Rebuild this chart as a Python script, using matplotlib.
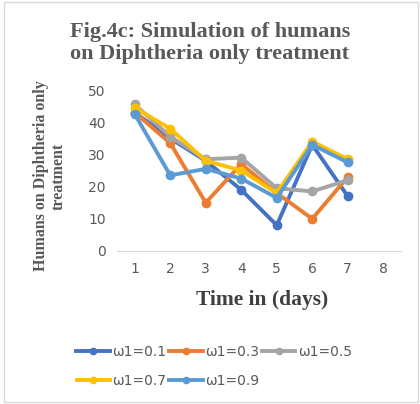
import numpy as np
import matplotlib.pyplot as plt
from matplotlib.patches import Rectangle

days = [1, 2, 3, 4, 5, 6, 7]
w01 = [43, 35, 28, 19, 8, 33, 17]
w03 = [43, 33.5, 15, 27, 18, 10, 23]
w05 = [45.5, 35.5, 28.5, 29, 19.5, 18.5, 22]
w07 = [44.5, 38, 28, 25, 18, 34, 28.5]
w09 = [42.5, 23.5, 25.5, 22.5, 16.5, 33, 27.5]
labels = ['ω1=0.1', 'ω1=0.3', 'ω1=0.5', 'ω1=0.7', 'ω1=0.9']
colors = ['#4472C4', '#ED7D31', '#A5A5A5', '#FFC000', '#5B9BD5']
series = [w01, w03, w05, w07, w09]

fig = plt.figure(figsize=(4.2, 4.04), dpi=100)
ax = fig.add_axes([117/420, 1-251/404, 284/420, 161/404])

for vals, lab, c in zip(series, labels, colors):
    ax.plot(days, vals, color=c, lw=2.8, marker='o', ms=6, label=lab)

ax.set_xlim(0.5, 8.5)
ax.set_ylim(0, 50)
ax.set_xticks(range(1, 9))
ax.set_yticks(range(0, 51, 10))
for s in ['top', 'right', 'left']:
    ax.spines[s].set_visible(False)
ax.spines['bottom'].set_color('#D9D9D9')
ax.tick_params(length=0, labelsize=10, colors='#595959', pad=8)

fig.text(0.5, 1-43/404, 'Fig.4c: Simulation of humans\non Diphtheria only treatment',
         ha='center', va='center', fontsize=16, fontweight='bold',
         family='Liberation Serif', color='#595959', linespacing=1.15)
fig.text(50/420, 1-176/404, 'Humans on Diphtheria only\ntreatment', rotation=90,
         ha='center', va='center', fontsize=11.5, fontweight='bold',
         family='Liberation Serif', color='#595959', linespacing=1.1)
fig.text(262/420, 1-300/404, 'Time in (days)', ha='center', va='center',
         fontsize=15.5, fontweight='bold', family='Liberation Serif', color='#404040')

h, l = ax.get_legend_handles_labels()
kw = dict(frameon=False, fontsize=10, labelcolor='#595959', handlelength=2.4,
          columnspacing=0.2, handletextpad=0.2, markerscale=0.75)
fig.legend(h[:3], l[:3], loc='center', bbox_to_anchor=(0.51, 1-352/404), ncol=3, **kw)
fig.legend(h[3:], l[3:], loc='center left', bbox_to_anchor=(64/420, 1-381/404), ncol=2, **kw)

fig.patches.append(Rectangle((4/420, 2/404), 414/420, 400/404, transform=fig.transFigure,
                             fill=False, edgecolor='#D9D9D9', lw=1))

fig.savefig('out.png', dpi=100)
